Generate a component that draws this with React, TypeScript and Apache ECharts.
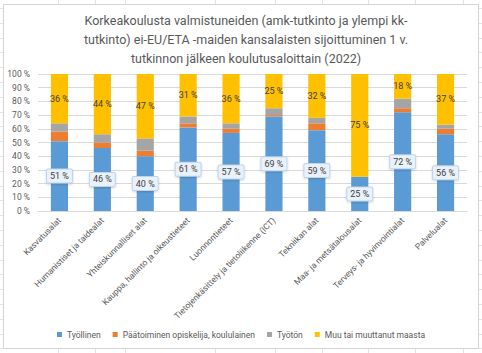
import React, { useEffect, useRef } from "react";
import * as echarts from "echarts";

const categories = [
  "Kasvatusalat",
  "Humanistiset ja taidealat",
  "Yhteiskunnalliset alat",
  "Kauppa, hallinto ja oikeustieteet",
  "Luonnontieteet",
  "Tietojenkäsittely ja tietoliikenne (ICT)",
  "Tekniikan alat",
  "Maa- ja metsätalousalat",
  "Terveys- ja hyvinvointialat",
  "Palvelualat",
];
const tyollinen = [51, 46, 40, 61, 57, 69, 59, 25, 72, 56];
const opiskelija = [7, 4, 4, 3, 3, 1, 5, 0, 3, 4];
const tyoton = [6, 6, 9, 5, 4, 5, 4, 0, 7, 3];
const muu = [36, 44, 47, 31, 36, 25, 32, 75, 18, 37];
const yTicks = [0, 10, 20, 30, 40, 50, 60, 70, 80, 90, 100];
const titleLines = [
  "Korkeakoulusta valmistuneiden (amk-tutkinto ja ylempi kk-",
  "tutkinto) ei-EU/ETA -maiden kansalaisten sijoittuminen 1 v.",
  "tutkinnon jälkeen koulutusaloittain (2022)",
];

const FONT = "Roboto";

export default function App() {
  const ref = useRef<HTMLDivElement>(null);
  useEffect(() => {
    document.body.style.margin = "0";
    const chart = echarts.init(ref.current!, null, { renderer: "svg" });
    const bg: any[] = [];
    const colXs = [58, 95, 125, 215, 275, 322, 368, 415, 463];
    colXs.forEach((x) => {
      bg.push({ type: "line", shape: { x1: x + 0.5, y1: 0, x2: x + 0.5, y2: 353 }, style: { stroke: "#e3e3e3", lineWidth: 1 }, z: -10, silent: true });
    });
    for (let k = 0; k < 24; k++) {
      const y = Math.round(8 + 14.8 * k) + 0.5;
      bg.push({ type: "line", shape: { x1: 0, y1: y, x2: 482, y2: y }, style: { stroke: "#e3e3e3", lineWidth: 1 }, z: -10, silent: true });
    }
    bg.push({ type: "rect", shape: { x: 3.5, y: 4.5, width: 475, height: 344 }, style: { fill: "#ffffff", stroke: "#d4d4d4", lineWidth: 1 }, z: -9, silent: true });

    const fmt = (p: any) => (p.value > 0 ? p.value + " %" : "");
    const boxLabel = {
      show: true,
      position: "inside",
      formatter: fmt,
      color: "#404040",
      fontSize: 9,
      fontFamily: FONT,
      backgroundColor: "#e9f1fa",
      borderColor: "#bfd3ea",
      borderWidth: 1,
      borderRadius: 1,
      padding: [2, 3, 2, 3],
      shadowColor: "rgba(0,0,0,0.18)",
      shadowBlur: 2,
      shadowOffsetY: 1,
    };
    const plainLabel = {
      show: true,
      position: "inside",
      formatter: fmt,
      color: "#404040",
      fontSize: 9,
      fontFamily: FONT,
    };
    const mk = (name: string, data: number[], color: string, label: any) => ({
      name,
      type: "bar",
      stack: "total",
      data,
      barWidth: "40%",
      itemStyle: { color },
      label: label || { show: false },
    });

    chart.setOption({
      animation: false,
      graphic: bg,
      title: {
        text: titleLines.join("\n"),
        left: 241,
        top: 6,
        textAlign: "center",
        textStyle: {
          color: "#595959",
          fontSize: 12.5,
          fontWeight: "normal",
          fontFamily: FONT,
          lineHeight: 19,
        },
      },
      grid: { left: 38, right: 15, top: 74, bottom: 142, containLabel: false },
      legend: {
        bottom: 9,
        left: "center",
        icon: "rect",
        itemWidth: 5,
        itemHeight: 5,
        itemGap: 12,
        textStyle: { color: "#595959", fontSize: 8.5, fontFamily: FONT },
        data: ["Työllinen", "Päätoiminen opiskelija, koululainen", "Työtön", "Muu tai muuttanut maasta"],
      },
      xAxis: {
        type: "category",
        data: categories,
        axisLine: { lineStyle: { color: "#d9d9d9" } },
        axisTick: { show: false },
        axisLabel: { rotate: 45, interval: 0, color: "#595959", fontSize: 8.5, fontFamily: FONT, margin: 8 },
      },
      yAxis: {
        type: "value",
        min: yTicks[0],
        max: yTicks[yTicks.length - 1],
        interval: 10,
        axisLine: { show: false },
        axisTick: { show: false },
        splitLine: { lineStyle: { color: "#d9d9d9" } },
        axisLabel: { color: "#595959", fontSize: 8.5, fontFamily: FONT, formatter: (v: number) => v + " %", margin: 8 },
      },
      series: [
        mk("Työllinen", tyollinen, "#5B9BD5", boxLabel),
        mk("Päätoiminen opiskelija, koululainen", opiskelija, "#ED7D31", null),
        mk("Työtön", tyoton, "#A5A5A5", null),
        mk("Muu tai muuttanut maasta", muu, "#FFC000", plainLabel),
      ],
    });
    return () => chart.dispose();
  }, []);
  return <div ref={ref} style={{ width: 482, height: 353, background: "#fff" }} />;
}
